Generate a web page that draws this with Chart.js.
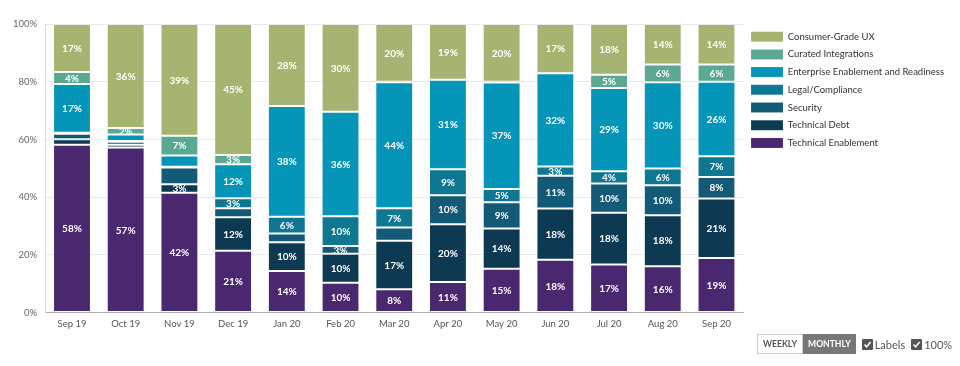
<!DOCTYPE html>
<html>
<head>
<meta charset="utf-8">
<script src="https://cdn.jsdelivr.net/npm/chart.js@4.4.0/dist/chart.umd.min.js"></script>
<style>
html,body{margin:0;padding:0;background:#fff;}
#wrap{position:relative;width:960px;height:366px;overflow:hidden;}
#c{position:absolute;left:0;top:0;}
#controls{position:absolute;left:757px;top:334px;height:20px;display:flex;align-items:center;font-family:Lato,"Open Sans",sans-serif;white-space:nowrap;}
.btn{display:inline-block;box-sizing:border-box;height:20px;line-height:18px;padding:0 5px;font-size:8.6px;font-weight:700;border:1px solid #ccc;color:#555;}
.btn.on{background:#777;color:#fff;border-color:#777;padding:0 4px;}
.lab{font-size:11px;color:#555;margin-left:6px;display:flex;align-items:center;}
.cb{display:inline-block;width:11px;height:11px;background:#555;border-radius:1px;margin-right:2px;position:relative;}
.cb svg{position:absolute;left:1px;top:1px;}
</style>
</head>
<body>
<div id="wrap">
<canvas id="c" width="960" height="366"></canvas>
<div id="controls">
  <span class="btn">WEEKLY</span><span class="btn on">MONTHLY</span>
  <span class="lab"><span class="cb"><svg width="9" height="9" viewBox="0 0 9 9"><path d="M1.5 4.6 L3.6 6.8 L7.6 2" stroke="#fff" stroke-width="1.5" fill="none"/></svg></span>Labels</span>
  <span class="lab"><span class="cb"><svg width="9" height="9" viewBox="0 0 9 9"><path d="M1.5 4.6 L3.6 6.8 L7.6 2" stroke="#fff" stroke-width="1.5" fill="none"/></svg></span>100%</span>
</div>
</div>
<script>
// ---- data (percent of each month) ----
const categories = ['Sep 19','Oct 19','Nov 19','Dec 19','Jan 20','Feb 20','Mar 20','Apr 20','May 20','Jun 20','Jul 20','Aug 20','Sep 20'];
const consumerGradeUX          = [16.6, 36.0, 38.7, 45.4, 28.4, 30.4, 20.0, 19.3, 20.0, 17.1, 17.6, 14.0, 14.0];
const curatedIntegrations      = [ 4.2,  2.3,  6.9,  3.2,  0.0,  0.0,  0.2,  0.0,  0.3,  0.0,  4.6,  6.2,  6.0];
const enterpriseEnablement     = [16.9,  2.2,  3.9, 11.8, 38.4, 36.2, 43.6, 31.0, 36.9, 32.3, 28.8, 29.9, 25.8];
const legalCompliance          = [ 0.3,  0.3,  0.2,  3.4,  5.8, 10.3,  6.7,  9.0,  4.6,  3.2,  4.3,  5.8,  7.2];
const security                 = [ 1.9,  1.0,  5.8,  3.2,  3.0,  2.7,  4.6, 10.1,  9.1, 11.3, 10.1, 10.4,  7.5];
const technicalDebt            = [ 1.9,  1.0,  3.0, 11.6, 10.0, 10.1, 16.8, 20.0, 14.0, 17.8, 17.9, 17.6, 20.6];
const technicalEnablement      = [58.2, 57.2, 41.5, 21.4, 14.4, 10.3,  8.1, 10.6, 15.2, 18.3, 16.7, 16.1, 18.9];
const yTickValues = [0, 20, 40, 60, 80, 100];

const seriesNames  = ['Technical Enablement','Technical Debt','Security','Legal/Compliance','Enterprise Enablement and Readiness','Curated Integrations','Consumer-Grade UX'];
const seriesValues = [technicalEnablement, technicalDebt, security, legalCompliance, enterpriseEnablement, curatedIntegrations, consumerGradeUX];
const seriesColors = ['#4a2870','#0d3a52','#135a77','#0e7792','#0495b8','#5ba893','#a5b571'];
// label layout: which labels win when two overlap
const labelPriority = ['Consumer-Grade UX','Curated Integrations','Enterprise Enablement and Readiness','Legal/Compliance','Technical Debt','Security','Technical Enablement'];
const minLabelValue = 2;
const labelBoxHeight = 17.6;

// normalise to 100%
const totals = categories.map((_, i) => seriesValues.reduce((s, arr) => s + arr[i], 0));
const datasets = seriesNames.map((name, k) => ({
  label: name,
  data: seriesValues[k].map((v, i) => v / totals[i] * 100),
  backgroundColor: seriesColors[k],
  borderColor: 'rgba(255,255,255,0.1)',
  borderWidth: 1,
  borderSkipped: false,
  categoryPercentage: 1,
  barPercentage: 0.705
}));

const FONT = 'Lato, "Open Sans", sans-serif';

const segLabels = {
  id: 'segLabels',
  afterDatasetsDraw(chart) {
    const ctx = chart.ctx;
    ctx.save();
    ctx.font = 'bold 10px ' + FONT;
    ctx.fillStyle = '#ffffff';
    ctx.textAlign = 'center';
    ctx.textBaseline = 'middle';
    categories.forEach((_, i) => {
      const placed = [];
      labelPriority.forEach(name => {
        const di = chart.data.datasets.findIndex(d => d.label === name);
        const v = chart.data.datasets[di].data[i];
        if (v < minLabelValue) return;
        const el = chart.getDatasetMeta(di).data[i];
        const cy = (el.y + el.base) / 2;
        if (placed.some(p => Math.abs(p - cy) < labelBoxHeight)) return;
        placed.push(cy);
        ctx.fillText(Math.round(v) + '%', el.x, cy + 0.5);
      });
    });
    ctx.restore();
  }
};

new Chart(document.getElementById('c'), {
  type: 'bar',
  data: { labels: categories, datasets },
  plugins: [segLabels],
  options: {
    responsive: false,
    animation: false,
    layout: { padding: { top: 24, left: 5, right: 6, bottom: 30 } },
    plugins: {
      tooltip: { enabled: false },
      legend: {
        position: 'right',
        align: 'start',
        reverse: true,
        labels: { boxWidth: 32, boxHeight: 10, padding: 7.7, color: '#333', font: { family: FONT, size: 9.5 } }
      }
    },
    scales: {
      x: {
        stacked: true,
        grid: { display: false, drawTicks: false },
        border: { color: '#b0b0b0' },
        ticks: { color: '#555', padding: 6, font: { family: FONT, size: 9.5 } }
      },
      y: {
        stacked: true,
        min: 0, max: 100,
        afterBuildTicks: s => { s.ticks = yTickValues.map(v => ({ value: v })); },
        grid: { color: '#e9e9e9', drawTicks: false },
        border: { color: '#dcdcdc' },
        ticks: { color: '#666', padding: 8, font: { family: FONT, size: 9.5 }, callback: v => v + '%' }
      }
    }
  }
});
</script>
</body>
</html>
